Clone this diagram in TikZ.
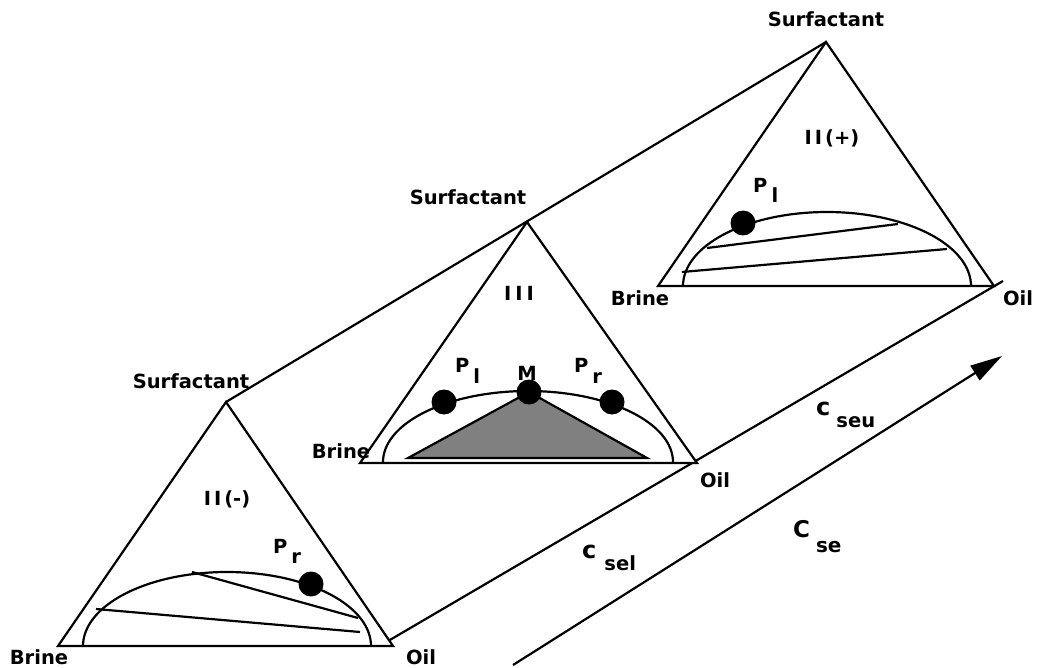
\documentclass[tikz,border=0pt]{standalone}
\usepackage{fontspec}
\setmainfont{DejaVu Sans}
\usetikzlibrary{arrows.meta}
\tikzset{
  edge/.style={line width=2.2pt, line join=miter},
  lbl/.style={inner sep=0pt, font=\fontsize{19.5}{22}\selectfont\bfseries, anchor=base},
  plbl/.style={inner sep=0pt, font=\fontsize{19.5}{22}\selectfont\bfseries, anchor=base west},
  bigc/.style={inner sep=0pt, font=\fontsize{24}{26}\selectfont\bfseries, anchor=base west},
  dot/.style={circle, fill=black, inner sep=0pt, minimum size=25pt},
}
\begin{document}
\begin{tikzpicture}[x=1pt, y=-1pt]
\useasboundingbox (0,0) rectangle (1038,668);
% triangle vertices
\coordinate (B1) at (58,646);  \coordinate (S1) at (226,402); \coordinate (O1) at (393,646);
\coordinate (B2) at (360,463); \coordinate (S2) at (527,222); \coordinate (O2) at (697,463);
\coordinate (B3) at (658,286); \coordinate (S3) at (826,42);  \coordinate (O3) at (994,286);
\coordinate (L1) at (383,644); \coordinate (L2) at (1003,281);
\coordinate (A1) at (513,665); \coordinate (A2) at (1002,356);
% connecting lines
\draw[edge] (S1) -- (S3);
\draw[edge] (L1) -- (L2);
\draw[edge, -{Triangle[length=32pt,width=17pt]}] (A1) -- (A2);
% triangles
\foreach \i in {1,2,3}{
  \draw[edge, fill=white] (B\i) -- (S\i) -- (O\i) -- cycle;
}
% binodal curves
\draw[edge] plot[domain=0:180, samples=80, smooth] ({227+144*cos(\x)}, {646-74*sin(\x)});
\draw[edge] plot[domain=0:180, samples=80, smooth] ({528+145*cos(\x)}, {462-71*sin(\x)});
\draw[edge] plot[domain=0:180, samples=80, smooth] ({827+144*cos(\x)}, {286-74*sin(\x)});
% tie lines
\coordinate (t1a) at (192,572); \coordinate (t1b) at (358,618);
\coordinate (t1c) at (96,609);  \coordinate (t1d) at (360,632);
\draw[edge] (t1a) -- (t1b);
\draw[edge] (t1c) -- (t1d);
\coordinate (t3a) at (707,248); \coordinate (t3b) at (898,224);
\coordinate (t3c) at (682,272); \coordinate (t3d) at (947,249);
\draw[edge] (t3a) -- (t3b);
\draw[edge] (t3c) -- (t3d);
% three-phase triangle
\coordinate (g1) at (408,458); \coordinate (g2) at (647,458); \coordinate (g3) at (529,392);
\draw[edge, fill={rgb,255:red,128;green,128;blue,128}] (g1) -- (g3) -- (g2) -- cycle;
% dots
\node[dot] (d1) at (311,584) {};
\node[dot] (d2) at (444,402) {};
\node[dot] (d3) at (529,392) {};
\node[dot] (d4) at (612,402) {};
\node[dot] (d5) at (743,223) {};
% vertex labels
\node[lbl] (s1) at (191,388) {Surfactant};
\node[lbl] (s2) at (468,205) {Surfactant};
\node[lbl] (s3) at (826,27) {Surfactant};
\node[lbl] (b1) at (39,664) {Brine};
\node[lbl] (o1) at (421,664) {Oil};
\node[lbl] (b2) at (341,458) {Brine};
\node[lbl] (o2) at (715,487) {Oil};
\node[lbl] (b3) at (640,305) {Brine};
\node[lbl] (o3) at (1018,305) {Oil};
% phase labels
\node[lbl] (ph1) at (227,505) {I\kern3pt I\kern3pt(-)};
\node[lbl] (ph2) at (519,300) {I\kern4pt I\kern4pt I};
\node[lbl] (ph3) at (832,145) {I\kern3pt I\kern3pt(+)};
% point labels
\node[plbl] (p1) at (273,553) {P\kern4pt\raisebox{-10pt}{r}};
\node[plbl] (p2) at (455,372) {P\kern4pt\raisebox{-11pt}{l}};
\node[lbl] (m) at (527,380) {M};
\node[plbl] (p3) at (574,372) {P\kern4pt\raisebox{-11pt}{r}};
\node[plbl] (p4) at (753,193) {P\kern4pt\raisebox{-10pt}{l}};
% concentration labels
\node[bigc] (cu) at (816,415) {c\kern6pt\raisebox{-12pt}{\fontsize{19.5}{22}\selectfont seu}};
\node[bigc] (cl) at (582,558) {c\kern8pt\raisebox{-12pt}{\fontsize{19.5}{22}\selectfont sel}};
\node[inner sep=0pt, font=\fontsize{23}{26}\selectfont\bfseries, anchor=base west] (cs) at (793,537) {C\kern6pt\raisebox{-15pt}{\fontsize{20}{22}\selectfont se}};
\end{tikzpicture}
\end{document}
